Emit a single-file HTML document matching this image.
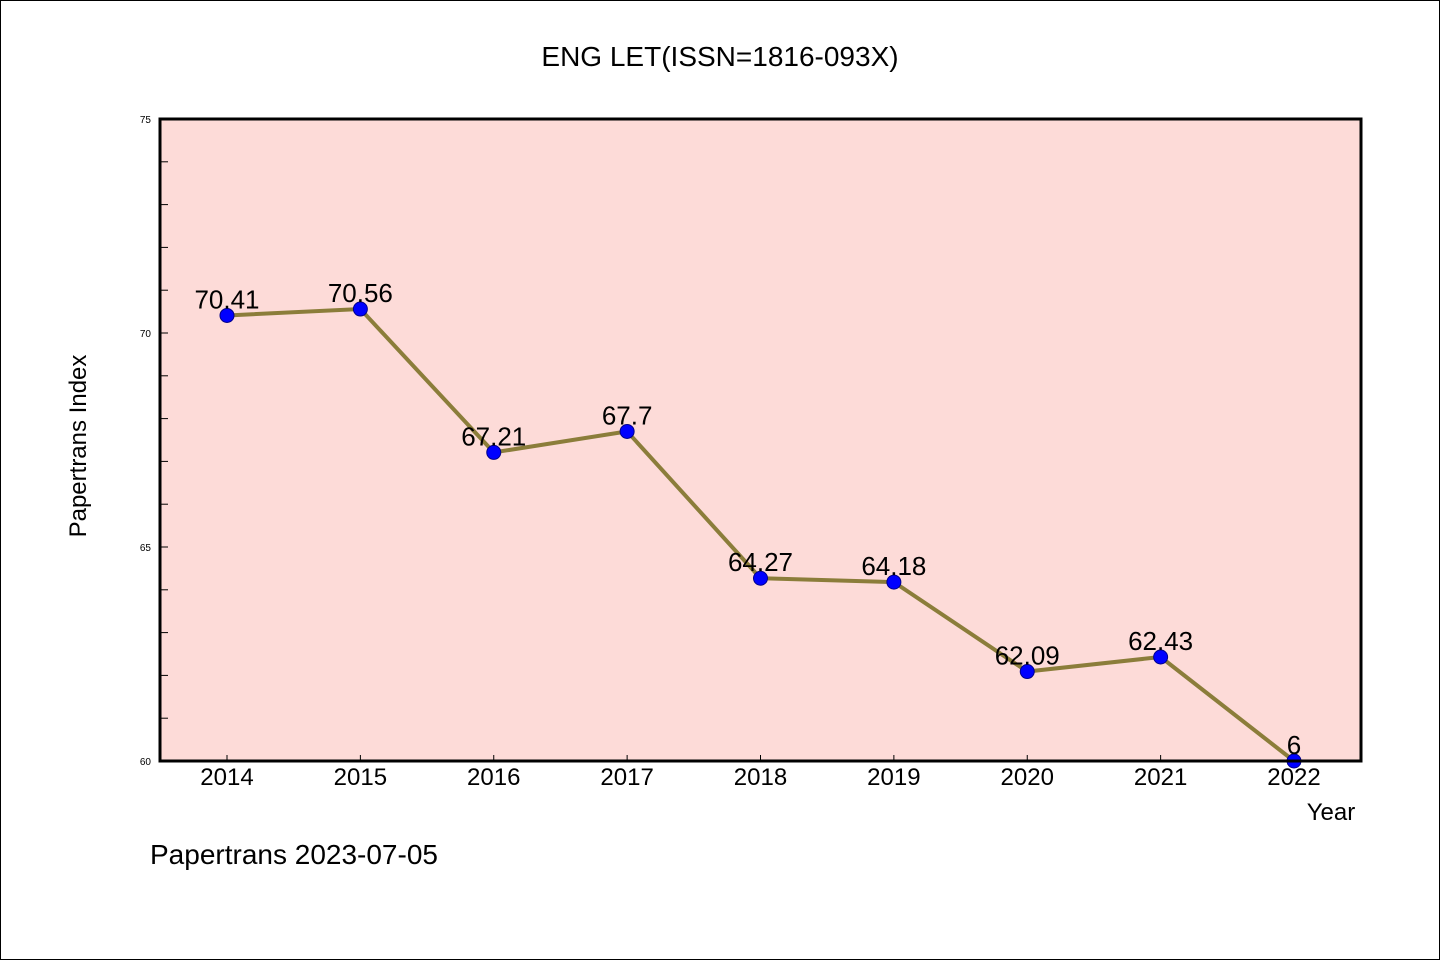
<!DOCTYPE html>
<html><head><meta charset="utf-8"><style>
html,body{margin:0;padding:0;background:#fff}
svg text{font-family:"WenQuanYi Zen Hei","Liberation Sans",sans-serif}
</style></head><body>
<svg width="1440" height="960" xmlns="http://www.w3.org/2000/svg">
<rect x="0.5" y="0.5" width="1439" height="959" fill="#fff" stroke="#000"/>
<text x="720" y="66" font-size="28" text-anchor="middle">ENG LET(ISSN=1816-093X)</text>
<rect x="160" y="119" width="1201" height="642" fill="#fddbd8"/>
<g id="axes"></g>
<g id="series"></g>
<rect x="160" y="119" width="1201" height="642" fill="none" stroke="#000" stroke-width="3"/>
<text x="86" y="446" font-size="24" text-anchor="middle" transform="rotate(-90 86 446)">Papertrans Index</text>
<text x="1331" y="820" font-size="24" text-anchor="middle">Year</text>
<text x="150" y="864" font-size="28">Papertrans 2023-07-05</text>
</svg>
<script>
const years=[2014,2015,2016,2017,2018,2019,2020,2021,2022];
const values=[70.41,70.56,67.21,67.7,64.27,64.18,62.09,62.43,60];
const valueLabels=["70.41","70.56","67.21","67.7","64.27","64.18","62.09","62.43","6"];
const yTicks=[60,65,70,75];
const NS="http://www.w3.org/2000/svg";
const X=i=>227+i*(1294-227)/(years.length-1);
const Y=v=>761-(v-60)*(642/15);
function mk(t,a,p){const e=document.createElementNS(NS,t);for(const k in a)e.setAttribute(k,a[k]);p.appendChild(e);return e;}
const ax=document.getElementById('axes'),se=document.getElementById('series');
for(let v=60;v<=75;v++){const t=mk('line',{x1:160,x2:168,y1:Y(v),y2:Y(v),stroke:'#000','stroke-width':1},ax);

}
yTicks.forEach(v=>{const t=mk('text',{x:151,y:Y(v)+4,'font-size':10,'text-anchor':'end'},ax);t.textContent=v;

});
years.forEach((yr,i)=>{const l=mk('line',{x1:X(i),x2:X(i),y1:761,y2:755,stroke:'#000','stroke-width':1},ax);


const t=mk('text',{x:X(i),y:785,'font-size':24,'text-anchor':'middle'},ax);t.textContent=yr;

});
const pl=mk('polyline',{points:values.map((v,i)=>X(i)+','+Y(v)).join(' '),fill:'none',stroke:'#8b7d3a','stroke-width':4},se);


values.forEach((v,i)=>{const c=mk('circle',{cx:X(i),cy:Y(v),r:7,fill:'#0000ff',stroke:'#00008b','stroke-width':1},se);


const t=mk('text',{x:X(i),y:Y(v)-7,'font-size':26,'text-anchor':'middle'},se);t.textContent=valueLabels[i];

});
</script>
</body></html>
